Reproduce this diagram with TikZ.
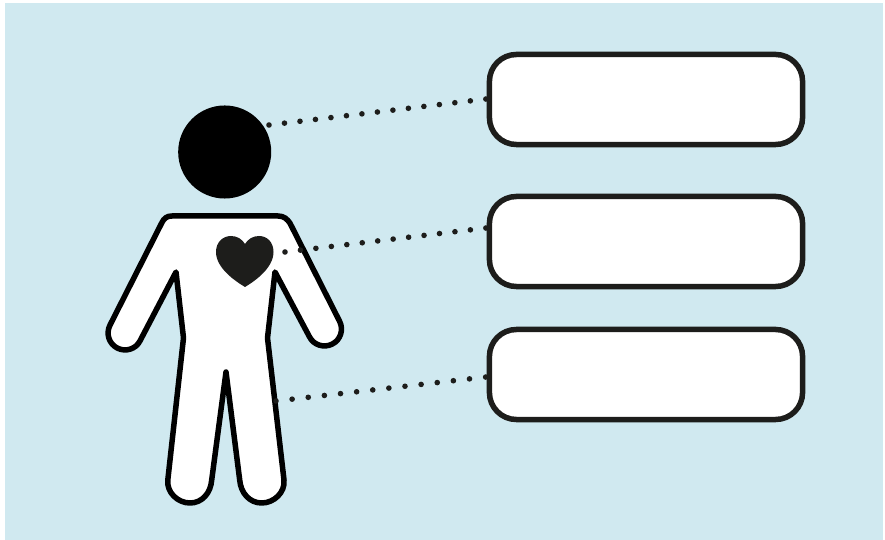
\documentclass[tikz,border=0pt]{standalone}
\definecolor{bgblue}{HTML}{D0E9F0}
\definecolor{inkdark}{HTML}{1D1D1B}
\tikzset{
  labelbox/.style={draw=inkdark,fill=white,line width=0.055cm,rounded corners=0.27cm,
    minimum width=3.13cm,minimum height=0.90cm,inner sep=0pt,outer sep=0pt},
  bodyline/.style={draw=black,fill=white,line width=0.055cm,line join=round},
  dotline/.style={draw=inkdark,line width=0.056cm,line cap=round,dash pattern=on 0pt off #1}
}
\begin{document}
\begin{tikzpicture}[x=0.01cm,y=-0.01cm]
\useasboundingbox (0,0) rectangle (885,540);
\fill[white] (0,0) rectangle (885,540);
\fill[bgblue] (5,3) rectangle (883,540);
% body
\path[bodyline] (172,216) -- (278,216)
  .. controls (284,216) and (287,219) .. (289.9,223)
  -- (339.6,321.3)
  .. controls (343.8,329.7) and (340.6,339.9) .. (332.2,344.1)
  .. controls (323.8,348.3) and (313.6,345.1) .. (309.4,336.7)
  -- (275,272) -- (267.5,338) -- (284,480)
  .. controls (285.3,492.5) and (273.8,503) .. (261.7,503)
  .. controls (249.6,503) and (240.7,493) .. (239.7,480)
  -- (226,372) -- (211.7,480)
  .. controls (210.7,493) and (202.1,503) .. (190,503)
  .. controls (177.9,503) and (166.5,492.5) .. (167.8,480)
  -- (183.5,338) -- (176,272) -- (140.1,340.7)
  .. controls (135.9,349.1) and (125.7,352.3) .. (117.35,348.1)
  .. controls (109,343.9) and (105.7,333.7) .. (109.9,325.3)
  -- (161.7,223)
  .. controls (164,218) and (167,216) .. (172,216) -- cycle;
% head
\node[circle,fill=black,minimum size=0.93cm,inner sep=0pt,outer sep=0pt] (head) at (224.7,152) {};
% heart
\fill[inkdark] (245,287)
  .. controls (235,281) and (216,268) .. (216,252)
  .. controls (216,242) and (223,236) .. (231,236)
  .. controls (237,236) and (242,239) .. (245,244)
  .. controls (248,239) and (253,236) .. (259,236)
  .. controls (267,236) and (273.5,242) .. (273.5,252)
  .. controls (273.5,268) and (255,281) .. (245,287) -- cycle;
% boxes
\node[labelbox] (box1) at (646,99.5) {};
\node[labelbox] (box2) at (646,241.5) {};
\node[labelbox] (box3) at (646,374.5) {};
% connector ends
\coordinate (headEnd) at (269,125);
\coordinate (heartEnd) at (285,252);
\coordinate (legEnd) at (276,401);
\coordinate (box1End) at (486,99);
\coordinate (box2End) at (486,228);
\coordinate (box3End) at (486,377);
\draw[dotline=0.1559cm] (headEnd) -- (box1End);
\draw[dotline=0.1555cm] (heartEnd) -- (box2End);
\draw[dotline=0.1622cm] (legEnd) -- (box3End);
\end{tikzpicture}
\end{document}
